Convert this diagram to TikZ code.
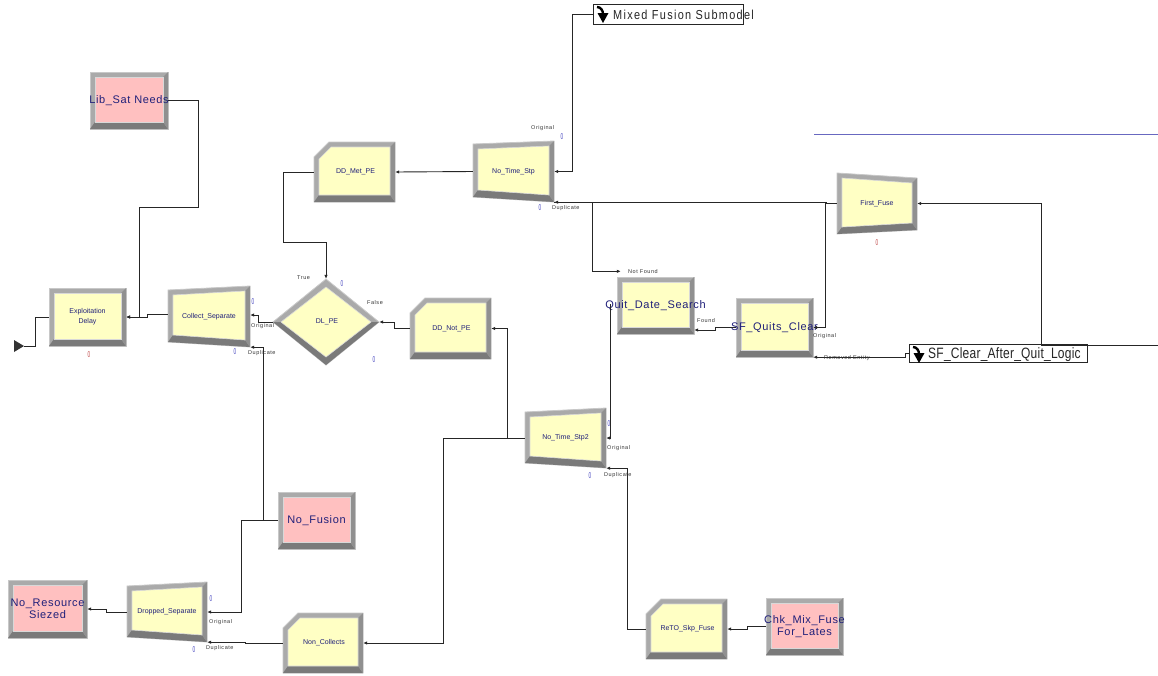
\documentclass[tikz,border=0pt]{standalone}
\usepackage{fontspec}
\setmainfont{Liberation Sans}
\newfontfamily\bigfam{Liberation Sans}[LetterSpace=6]
\newfontfamily\subfam{Liberation Sans}[LetterSpace=12]
\newfontfamily\clrfam{Liberation Sans}[LetterSpace=2]
\newfontfamily\tinyfam{Liberation Sans}[LetterSpace=10]
\usetikzlibrary{arrows.meta,calc}

\definecolor{modyellow}{HTML}{FFFFC4}
\definecolor{modpink}{HTML}{FFC0C0}
\definecolor{bevmid}{HTML}{AAAAAA}
\definecolor{bevdark}{HTML}{7A7A7A}
\definecolor{bevright}{HTML}{909090}
\definecolor{bevlight}{HTML}{C8C8C8}
\definecolor{bevinner}{HTML}{D8D8D8}
\definecolor{navy}{HTML}{20207A}
\definecolor{cntblue}{HTML}{4848C0}
\definecolor{cntred}{HTML}{C04848}
\definecolor{rulecol}{HTML}{6868C0}

\newcommand{\smallf}{\fontsize{7}{10}\selectfont}
\newcommand{\bigf}{\bigfam\fontsize{11}{12.5}\selectfont}
\newcommand{\tinyf}{\tinyfam\fontsize{5.5}{6}\selectfont}
\def\modfillcolor{modyellow}

% name, x1, x2, yTL, yTR, yBR, yBL, style, text
\newcommand{\bevquad}[9]{%
\begin{scope}[#8]
\filldraw[fill=bevmid,draw=bevlight,line width=0.8pt] (#2,#4) -- (#3,#5) -- (#3,#6) -- (#2,#7) -- cycle;
\fill[bevdark] (#2,#7) -- (#3,#6) -- ({#3-5},{#6-7}) -- ({#2+5},{#7-7}) -- cycle;
\fill[bevright] (#3,#5) -- (#3,#6) -- ({#3-5},{#6-7}) -- ({#3-5},{#5+5}) -- cycle;
\filldraw[fill=\modfillcolor,draw=bevinner,line width=0.6pt] ({#2+5},{#4+5}) -- ({#3-5},{#5+5}) -- ({#3-5},{#6-7}) -- ({#2+5},{#7-7}) -- cycle;
\node[inner sep=0pt,minimum width={#3-#2},minimum height={max(#6,#7)-min(#4,#5)}] (#1) at ({(#2+#3)/2},{(min(#4,#5)+max(#6,#7))/2}) {};
\node[modtext] (#1-t) at (#1.center) {#9};
\end{scope}}

% name, x1, x2, y1, y2, text
\newcommand{\bevcut}[6]{%
\filldraw[fill=bevmid,draw=bevlight,line width=0.8pt] ({#2+15},#4) -- (#3,#4) -- (#3,#5) -- (#2,#5) -- (#2,{#4+15}) -- cycle;
\fill[bevdark] (#2,#5) -- (#3,#5) -- ({#3-5},{#5-7}) -- ({#2+5},{#5-7}) -- cycle;
\fill[bevright] (#3,#4) -- (#3,#5) -- ({#3-5},{#5-7}) -- ({#3-5},{#4+5}) -- cycle;
\filldraw[fill=modyellow,draw=bevinner,line width=0.6pt] ({#2+17},{#4+5}) -- ({#3-5},{#4+5}) -- ({#3-5},{#5-7}) -- ({#2+5},{#5-7}) -- ({#2+5},{#4+17}) -- cycle;
\node[inner sep=0pt,minimum width={#3-#2},minimum height={#5-#4}] (#1) at ({(#2+#3)/2},{(#4+#5)/2}) {};
\node[modtext,font=\smallf] (#1-t) at ([xshift=1pt]#1.center) {#6};}

\newcommand{\subicon}[2]{%
\draw[line width=2.4pt,black] (#1,{#2}) to[out=0,in=90] ({#1+6},{#2+7});
\fill[black] ({#1+0.5},{#2+6}) -- ({#1+11.5},{#2+6}) -- ({#1+6},{#2+16}) -- cycle;}

\begin{document}
\begin{tikzpicture}[x=1pt,y=-1pt,
  modfill/.store in=\modfillcolor,
  ymod/.style={modfill=modyellow,font=\smallf},
  ybig/.style={modfill=modyellow,font=\bigf},
  pmod/.style={modfill=modpink,font=\bigf},
  modtext/.style={text=navy,inner sep=0pt,align=center},
  conn/.style={draw=black!85,line width=0.9pt},
  arr/.style={conn,-{Latex[length=4pt,width=3.5pt]}},
  rarr/.style={conn,{Latex[length=4pt,width=3.5pt]}-},
  lbl/.style={font=\tinyf,text=black!80,inner sep=0pt,anchor=west},
  cnt/.style={font=\fontsize{8.5}{8.5}\selectfont,inner sep=0pt,text=cntblue},
  subbox/.style={draw=black!85,line width=0.8pt,inner sep=0pt,fill=white}]
\useasboundingbox[fill=white] (0,0) rectangle (1158,675);

% ---- modules ----
\bevquad{libsat}{90}{168}{72}{72}{129}{129}{pmod}{Lib\_Sat Needs}
\bevquad{expl}{49}{126}{288}{288}{346}{346}{ymod}{Exploitation\\Delay}
\bevquad{collect}{168}{250}{290}{286}{347}{342}{ymod}{Collect\_Separate}
\bevquad{nts}{473}{554}{144}{141}{202}{197}{ymod}{No\_Time\_Stp}
\bevquad{nts2}{525}{606}{412}{408}{468}{463}{ymod}{No\_Time\_Stp2}
\bevquad{dropped}{127}{207}{586}{582}{642}{637}{ymod}{Dropped\_Separate}
\bevquad{firstfuse}{837}{917}{173}{178}{230}{234}{ymod}{First\_Fuse}
\bevquad{nofusion}{278}{355}{492}{492}{549}{549}{pmod}{No\_Fusion}
\bevquad{noresource}{8}{87}{580}{580}{638}{638}{pmod}{No\_Resource\\Siezed}
\bevquad{chkmix}{766}{843}{598}{598}{655}{655}{pmod}{Chk\_Mix\_Fuse\\For\_Lates}
\bevquad{quit}{617}{694}{277}{277}{334}{334}{ybig}{Quit\_Date\_Search}
\bevquad{sfquits}{736}{813}{298}{298}{357}{357}{ybig}{SF\_Quits\_Clear}

\bevcut{ddmet}{314}{395}{142}{202}{DD\_Met\_PE}
\bevcut{ddnot}{410}{491}{298}{359}{DD\_Not\_PE}
\bevcut{noncol}{283}{363}{613}{673}{Non\_Collects}
\bevcut{reto}{646}{727}{599}{659}{ReTO\_Skp\_Fuse}

% decide diamond
\filldraw[fill=bevmid,draw=bevlight,line width=0.8pt] (273,322) -- (326,279) -- (379,322) -- (326,365) -- cycle;
\fill[bevdark] (273,322) -- (326,365) -- (379,322) -- (371,322) -- (326,357) -- (281,322) -- cycle;
\filldraw[fill=modyellow,draw=bevinner,line width=0.6pt] (281,322) -- (326,287) -- (371,322) -- (326,357) -- cycle;
\node[inner sep=0pt,minimum width=106,minimum height=86] (dlpe) at (326,322) {};
\node[modtext,font=\smallf] (dlpe-t) at ([xshift=1pt]dlpe.center) {DL\_PE};

% start marker
\fill[black!80] (14,340) -- (24,346) -- (14,352) -- cycle;
\coordinate (start) at (24,346);
\coordinate (ext) at (1158,345);

% submodels
\node[subbox,minimum width=150,minimum height=20] (mixed) at (668,14) {};
\subicon{597}{7}
\node[inner sep=0pt,anchor=west,font=\subfam\fontsize{13}{13}\selectfont,text=black!85] (mixedtxt) at (613,15) {\scalebox{0.84}[1]{Mixed Fusion Submodel}};
\node[subbox,minimum width=178,minimum height=18] (sfclear) at (998,353) {};
\subicon{913}{347}
\node[inner sep=0pt,anchor=west,font=\clrfam\fontsize{15}{15}\selectfont,text=black!85] (sfcleartxt) at (928,355) {\scalebox{0.8}[1]{SF\_Clear\_After\_Quit\_Logic}};

% top-right rule
\draw[rulecol,line width=0.8pt] (814,134) -- (1158,134);

% ---- connectors ----
\draw[conn] (start) -- ++(11,0) |- (expl.west);
\draw[arr] (libsat.east) -- ++(30,0) |- (139,207) |- (expl.east);
\draw[arr] ([yshift=2.5pt]collect.west) -- ++(-20,0) |- (expl.east);
\draw[arr] (dlpe.west) -- ++(-14,0) |- ([yshift=1.5pt]collect.east);
\draw[arr] (nofusion.west) -- ++(-14,0) |- (collect.south east);
\draw[arr] (nofusion.west) -- ++(-36,0) |- (dropped.east);
\draw[arr] (dropped.west) -- ++(-20,0) |- (noresource.east);
\draw[arr] (noncol.west) -- ++(-37,0) |- (dropped.south east);
\draw[arr] (nts2.west) -- ++(-81,0) |- (noncol.east);
\draw[arr] (nts2.west) -- ++(-17,0) |- (ddnot.east);
\draw[arr] (ddnot.west) -- ++(-15,0) |- (dlpe.east);
\draw[arr] (ddmet.west) -- ++(-30,0) -- ++(0,70) -| (dlpe.north);
\draw[arr] (nts.west) -- (ddmet.east);
\draw[arr] (mixed.west) -- ++(-20,0) |- (nts.east);
\draw[arr] (firstfuse.west) -- ++(-10,0) |- (nts.south east);
\draw[rarr] ([xshift=4pt,yshift=5.5pt]quit.north west) -- ++(-28,0) |- (nts.south east);
\draw[rarr] (sfquits.east) -- ++(12,0) |- (nts.south east);
\draw[arr] (sfquits.west) -- ++(-20,0) |- ([yshift=-24.5pt]quit.east);
\draw[arr] (sfclear.west) -- ++(-3,0) |- (sfquits.south east);
\draw[rarr] (nts2.east) -| ([xshift=-6pt,yshift=2pt]quit.west);
\draw[rarr] (nts2.south east) -- ++(21,0) |- (reto.west);
\draw[arr] (chkmix.west) -- ++(-18,0) |- (reto.east);
\draw[arr] (ext) -- ++(-117,0) |- (firstfuse.east);

% ---- exit labels ----
\node[lbl] (l1) at (251,326) {Original};
\node[lbl] (l2) at (248,353) {Duplicate};
\node[lbl] (l3) at (297,278) {True};
\node[lbl] (l4) at (367,303) {False};
\node[lbl] (l5) at (531,128) {Original};
\node[lbl] (l6) at (552,208) {Duplicate};
\node[lbl] (l7) at (607,448) {Original};
\node[lbl] (l8) at (604,475) {Duplicate};
\node[lbl] (l9) at (209,622) {Original};
\node[lbl] (l10) at (206,648) {Duplicate};
\node[lbl] (l11) at (628,272) {Not Found};
\node[lbl] (l12) at (697,321) {Found};
\node[lbl] (l13) at (813,336) {Original};
\node[lbl] (l14) at (824,358) {Removed Entity};

% ---- counters ----
\node[cnt,text=cntred] (c1) at (89,355) {\scalebox{0.55}[1]{0}};
\node[cnt] (c2) at (253,302) {\scalebox{0.55}[1]{0}};
\node[cnt] (c3) at (235,352) {\scalebox{0.55}[1]{0}};
\node[cnt] (c4) at (342,284) {\scalebox{0.55}[1]{0}};
\node[cnt] (c5) at (374,360) {\scalebox{0.55}[1]{0}};
\node[cnt] (c6) at (562,137) {\scalebox{0.55}[1]{0}};
\node[cnt] (c7) at (540,208) {\scalebox{0.55}[1]{0}};
\node[cnt] (c8) at (609,424) {\scalebox{0.55}[1]{0}};
\node[cnt] (c9) at (590,476) {\scalebox{0.55}[1]{0}};
\node[cnt] (c10) at (211,599) {\scalebox{0.55}[1]{0}};
\node[cnt] (c11) at (194,650) {\scalebox{0.55}[1]{0}};
\node[cnt,text=cntred] (c12) at (877,243) {\scalebox{0.55}[1]{0}};
\end{tikzpicture}
\end{document}
